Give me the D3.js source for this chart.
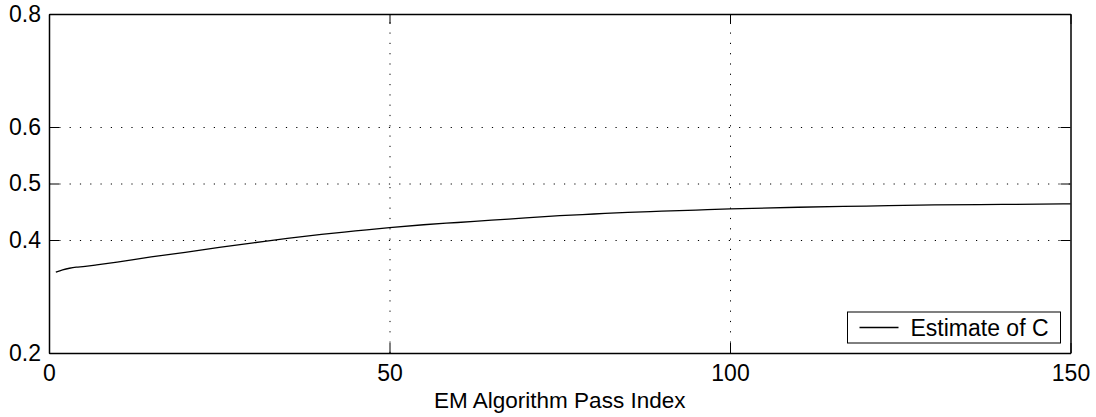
<!DOCTYPE html>
<meta charset="utf-8">
<style>
    body { margin: 0; background: #fff; }
    svg { font-family: "Liberation Sans", Arial, sans-serif; }
    .grid line { stroke: #000; stroke-width: 1; stroke-dasharray: 1.2, 9.1; }
    .grid path { display: none; }
    .axis path { stroke: #000; stroke-width: 1.5; }
    .axis line { stroke: #000; stroke-width: 1; }
    .axis text { font-size: 23px; fill: #000; }
    .label { font-size: 22.5px; fill: #000; }
    .legend-text { font-size: 23px; fill: #000; }
</style>
<svg width="1096" height="417"></svg>
<script src="https://d3js.org/d3.v7.min.js"></script>
<script>
    // EM pass index and estimated C
    const passIndex = [1, 2, 3, 4, 5, 7, 10, 15, 20, 25, 30, 35, 40, 45, 50, 55, 60, 65, 70, 75, 80, 85, 90, 95, 100, 110, 120, 130, 140, 150];
    const estimateC = [0.343, 0.347, 0.350, 0.352, 0.353, 0.356, 0.361, 0.370, 0.378, 0.387, 0.395, 0.403, 0.410, 0.416, 0.422, 0.427, 0.431, 0.435, 0.439, 0.443, 0.446, 0.449, 0.451, 0.453, 0.455, 0.458, 0.460, 0.462, 0.463, 0.464];

    const xTicks = [0, 50, 100, 150];
    const yTicks = [0.2, 0.4, 0.5, 0.6, 0.8];
    const legendLabel = "Estimate of C";
    const xLabel = "EM Algorithm Pass Index";

    const svg = d3.select("svg"),
        margin = { top: 14, right: 25.5, bottom: 64, left: 49 },
        width = +svg.attr("width") - margin.left - margin.right,
        height = +svg.attr("height") - margin.top - margin.bottom;

    const g = svg.append("g").attr("transform", `translate(${margin.left},${margin.top})`);

    const x = d3.scaleLinear().domain([0, 150]).range([0, width]);
    const y = d3.scaleLinear().domain([0.2, 0.8]).range([height, 0]);

    // dotted grid, only inside the box
    g.append("g")
        .attr("class", "grid")
        .call(d3.axisLeft(y).tickValues(yTicks.filter(d => d > 0.2 && d < 0.8)).tickSize(-width).tickFormat(""));
    g.append("g")
        .attr("class", "grid")
        .attr("transform", `translate(0,${height})`)
        .call(d3.axisBottom(x).tickValues(xTicks.filter(d => d > 0 && d < 150)).tickSize(-height).tickFormat(""));

    // the curve
    const data = passIndex.map((p, i) => ({ p: p, c: estimateC[i] }));
    const line = d3.line()
        .x(d => x(d.p))
        .y(d => y(d.c))
        .curve(d3.curveMonotoneX);
    g.append("path")
        .datum(data)
        .attr("fill", "none")
        .attr("stroke", "#000")
        .attr("stroke-width", 1.3)
        .attr("d", line);

    // box axes with inward ticks
    g.append("g")
        .attr("class", "axis")
        .attr("transform", `translate(0,${height})`)
        .call(d3.axisBottom(x).tickValues(xTicks).tickSizeInner(-10).tickSizeOuter(0).tickPadding(12));
    g.append("g")
        .attr("class", "axis")
        .call(d3.axisLeft(y).tickValues(yTicks).tickSizeInner(-10).tickSizeOuter(0).tickPadding(8).tickFormat(d3.format(".1f")));
    g.append("g")
        .attr("class", "axis")
        .call(d3.axisTop(x).tickValues(xTicks).tickSizeInner(-10).tickSizeOuter(0).tickFormat(""));
    g.append("g")
        .attr("class", "axis")
        .attr("transform", `translate(${width},0)`)
        .call(d3.axisRight(y).tickValues(yTicks).tickSizeInner(-10).tickSizeOuter(0).tickFormat(""));

    // x label
    svg.append("text")
        .attr("class", "label")
        .attr("x", margin.left + width / 2)
        .attr("y", 408)
        .attr("text-anchor", "middle")
        .text(xLabel);

    // legend
    const legend = g.append("g").attr("transform", `translate(${width - 223},${height - 41})`);
    legend.append("rect")
        .attr("width", 213)
        .attr("height", 31)
        .attr("fill", "#fff")
        .attr("stroke", "#000")
        .attr("stroke-width", 1);
    legend.append("line")
        .attr("x1", 12).attr("x2", 51)
        .attr("y1", 15.5).attr("y2", 15.5)
        .attr("stroke", "#000")
        .attr("stroke-width", 1.3);
    legend.append("text")
        .attr("class", "legend-text")
        .attr("x", 63)
        .attr("y", 23.5)
        .text(legendLabel);
</script>
